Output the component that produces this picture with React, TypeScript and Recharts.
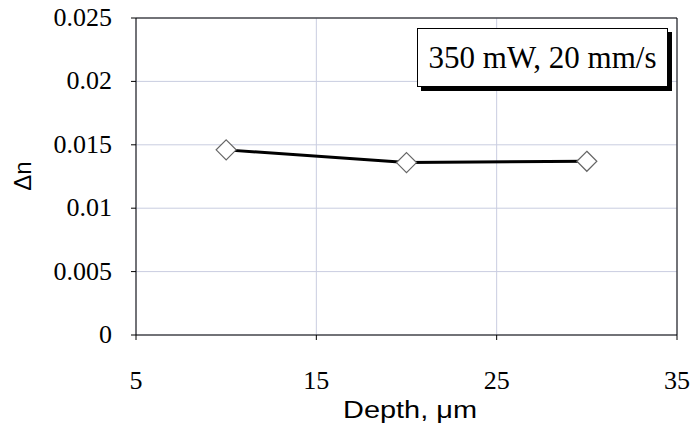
import React from 'react';
import { LineChart, Line, XAxis, YAxis, CartesianGrid, ReferenceLine } from 'recharts';

// Refractive index change vs depth, 350 mW / 20 mm/s
const depths = [10, 20, 30];
const deltaN = [0.0146, 0.0136, 0.0137];
const xTicks = [5, 15, 25, 35];
const yTicks = [0, 0.005, 0.01, 0.015, 0.02, 0.025];
const boxText = '350 mW, 20 mm/s';

const data = depths.map((d, i) => ({ depth: d, dn: deltaN[i] }));

const serif = '"Liberation Serif", "Times New Roman", serif';
const sans = '"Liberation Sans", Arial, sans-serif';
const gridColor = '#c9cde0';

const Diamond = (props: any) => {
  const { cx, cy } = props;
  if (cx == null || cy == null) return null;
  const r = 10;
  return (
    <path
      d={`M${cx},${cy - r} L${cx + r},${cy} L${cx},${cy + r} L${cx - r},${cy} Z`}
      fill="#fff"
      stroke="#666"
      strokeWidth={1.2}
    />
  );
};

const tickText: React.CSSProperties = {
  fontFamily: serif,
  fontSize: 26,
  lineHeight: '26px',
  color: '#000',
  whiteSpace: 'nowrap',
};

// tick labels in html so the serif face is used
const XTick = (props: any) => {
  const { x, y, payload } = props;
  return (
    <foreignObject x={x - 50} y={y - 5} width={100} height={32}>
      <div style={{ ...tickText, textAlign: 'center' }}>{payload.value}</div>
    </foreignObject>
  );
};

const YTick = (props: any) => {
  const { x, y, payload } = props;
  return (
    <foreignObject x={x - 100} y={y - 13} width={100} height={32}>
      <div style={{ ...tickText, textAlign: 'right' }}>{payload.value}</div>
    </foreignObject>
  );
};

const YTitle = () => (
  <text
    x={22}
    y={176}
    transform="rotate(-90 22 176)"
    textAnchor="middle"
    dominantBaseline="central"
    fontFamily={sans}
    fontSize={24}
    fill="#000"
  >
    Δn
  </text>
);

const XTitle = () => (
  <text
    x={410}
    y={418}
    textAnchor="middle"
    fontFamily={sans}
    fontSize={23}
    fill="#000"
    textLength={134}
    lengthAdjust="spacingAndGlyphs"
  >
    Depth, μm
  </text>
);

export default function App() {
  return (
    <div style={{ position: 'absolute', left: 0, top: 0, width: 692, height: 432, background: '#fff' }}>
      <LineChart width={692} height={432} data={data} margin={{ top: 18, right: 15, left: 0, bottom: 0 }}>
        <CartesianGrid stroke={gridColor} strokeWidth={1} />
        <XAxis
          dataKey="depth"
          type="number"
          domain={[5, 35]}
          ticks={xTicks}
          height={97}
          tickSize={5}
          tickMargin={33}
          stroke="#000"
          tick={XTick}
          label={<XTitle />}
        />
        <YAxis
          type="number"
          domain={[0, 0.025]}
          ticks={yTicks}
          width={136}
          tickSize={5}
          tickMargin={19}
          stroke="#000"
          tick={YTick}
          label={<YTitle />}
        />
        <ReferenceLine y={0.025} stroke="#000" strokeWidth={1} />
        <ReferenceLine x={35} stroke="#000" strokeWidth={1} />
        <Line
          dataKey="dn"
          stroke="#000"
          strokeWidth={3}
          dot={<Diamond />}
          activeDot={false}
          isAnimationActive={false}
        />
      </LineChart>
      <div
        style={{
          position: 'absolute',
          left: 417,
          top: 28,
          width: 249,
          height: 57,
          border: '1px solid #000',
          boxShadow: '4px 4px 0 #000',
          background: '#fff',
          fontFamily: serif,
          fontSize: 31,
          lineHeight: '57px',
          textAlign: 'center',
          whiteSpace: 'nowrap',
        }}
      >
        {boxText}
      </div>
    </div>
  );
}
